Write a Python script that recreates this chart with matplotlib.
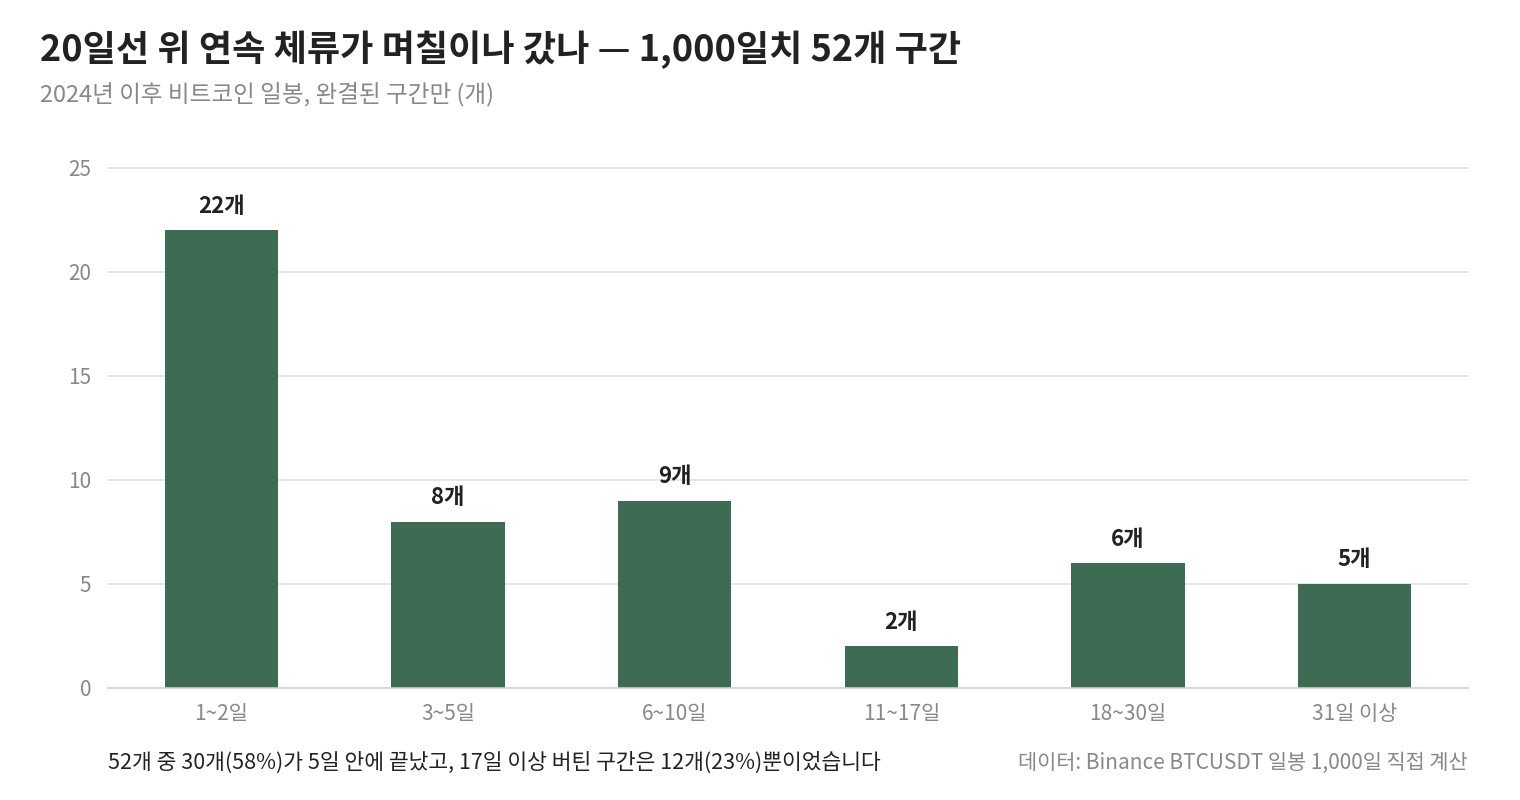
import matplotlib.pyplot as plt
import numpy as np

plt.rcParams['font.family'] = ['Noto Sans CJK KR', 'DejaVu Sans']

categories = ['1~2일', '3~5일', '6~10일', '11~17일', '18~30일', '31일 이상']
counts = [22, 8, 9, 2, 6, 5]
yticks = [0, 5, 10, 15, 20, 25]

title = '20일선 위 연속 체류가 며칠이나 갔나 — 1,000일치 52개 구간'
subtitle = '2024년 이후 비트코인 일봉, 완결된 구간만 (개)'
note_left = '52개 중 30개(58%)가 5일 안에 끝났고, 17일 이상 버틴 구간은 12개(23%)뿐이었습니다'
note_right = '데이터: Binance BTCUSDT 일봉 1,000일 직접 계산'

bar_color = '#3e6b53'
grid_color = '#e2e2e2'
tick_color = '#888888'

fig = plt.figure(figsize=(15.2, 8), dpi=100)
ax = fig.add_axes([108 / 1520, 1 - 688 / 800, 1360 / 1520, 520 / 800])

x = np.arange(len(categories))
bars = ax.bar(x, counts, width=0.5, color=bar_color, zorder=3)

for b, v in zip(bars, counts):
    ax.annotate(f'{v}개', (b.get_x() + b.get_width() / 2, v),
                xytext=(0, 9), textcoords='offset points',
                ha='center', va='bottom', fontsize=16, fontweight='bold',
                color='#222222')

ax.set_xlim(-0.5, len(categories) - 0.5)
ax.set_ylim(0, 25)
ax.set_yticks(yticks)
ax.set_xticks(x)
ax.set_xticklabels(categories)
ax.tick_params(axis='both', length=0, labelsize=15, labelcolor=tick_color)
ax.tick_params(axis='y', pad=12)
ax.tick_params(axis='x', pad=11)
for t in yticks:
    ax.axhline(t, color='#cfcfcf' if t == 0 else grid_color, lw=1.2,
               zorder=1 if t else 4, clip_on=False)
for s in ax.spines.values():
    s.set_visible(False)

fig.text(40 / 1520, 1 - 50 / 800, title, fontsize=26, fontweight='bold',
         color='#222222', va='center', ha='left')
fig.text(40 / 1520, 1 - 95 / 800, subtitle, fontsize=17,
         color='#888888', va='center', ha='left')
fig.text(108 / 1520, 1 - 763 / 800, note_left, fontsize=15.5,
         color='#222222', va='center', ha='left')
fig.text(1468 / 1520, 1 - 763 / 800, note_right, fontsize=15,
         color='#888888', va='center', ha='right')

fig.savefig('out.png', dpi=100, facecolor='white')
